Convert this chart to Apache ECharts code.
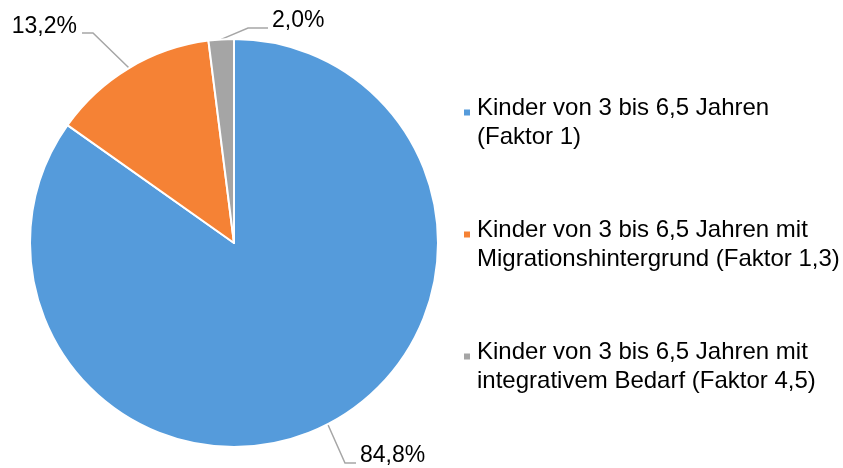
<!DOCTYPE html>
<html>
<head>
<meta charset="utf-8">
<script src="https://cdn.jsdelivr.net/npm/echarts@6/dist/echarts.min.js"></script>
<style>
  html, body { margin: 0; padding: 0; background: #ffffff; }
  #chart { width: 843px; height: 468px; }
</style>
</head>
<body>
<div id="chart"></div>
<script>
const categories = [
  'Kinder von 3 bis 6,5 Jahren\n(Faktor 1)',
  'Kinder von 3 bis 6,5 Jahren mit\nMigrationshintergrund (Faktor 1,3)',
  'Kinder von 3 bis 6,5 Jahren mit\nintegrativem Bedarf (Faktor 4,5)'
];
const values = [84.8, 13.2, 2.0];
const colors = ['#559BDB', '#F58235', '#A5A5A5'];

// label text anchor positions (Excel-style placement)
const labelPlacement = [
  { x: 360, y: 456, align: 'left', elbow: [345, 463], end: [356, 463] },
  { x: 77, y: 27, align: 'right', elbow: [93, 33], end: [82, 33] },
  { x: 272, y: 21, align: 'left', elbow: [248, 28], end: [268, 28] }
];

const chart = echarts.init(document.getElementById('chart'), null, { renderer: 'canvas' });
const fontFamily = '"Liberation Sans", Arial, sans-serif';

chart.setOption({
  animation: false,
  color: colors,
  legend: {
    orient: 'vertical',
    left: 462,
    top: 83,
    padding: 0,
    itemWidth: 8,
    itemHeight: 8,
    itemGap: 55.5,
    icon: 'rect',
    selectedMode: false,
    formatter: function (name) {
      return '{s| }\n' + name.split('\n').map(l => '{a|' + l + '}').join('\n');
    },
    textStyle: {
      fontFamily: fontFamily,
      color: '#000',
      rich: {
        s: { fontSize: 1, lineHeight: 21, padding: [0, 0, 0, 1] },
        a: { fontFamily: fontFamily, fontSize: 24, lineHeight: 29, color: '#000', padding: [0, 0, 0, 1] }
      }
    },
    data: categories
  },
  series: [{
    type: 'pie',
    center: [234, 243],
    radius: 204,
    startAngle: 90,
    clockwise: true,
    avoidLabelOverlap: false,
    itemStyle: { borderColor: '#ffffff', borderWidth: 2 },
    label: {
      show: true,
      position: 'outside',
      fontFamily: fontFamily,
      fontSize: 23,
      color: '#000',
      formatter: p => p.value.toFixed(1).replace('.', ',') + '%'
    },
    labelLine: {
      show: true,
      length: 20,
      length2: 10,
      lineStyle: { color: '#A6A6A6', width: 1.5 }
    },
    labelLayout: function (params) {
      const pl = labelPlacement[params.dataIndex];
      const p0 = params.labelLinePoints ? params.labelLinePoints[0] : pl.elbow;
      return {
        x: pl.x,
        y: pl.y,
        align: pl.align,
        verticalAlign: 'middle',
        labelLinePoints: [p0, pl.elbow, pl.end]
      };
    },
    emphasis: { disabled: true },
    data: categories.map((c, i) => ({ name: c, value: values[i] }))
  }]
});
</script>
</body>
</html>
